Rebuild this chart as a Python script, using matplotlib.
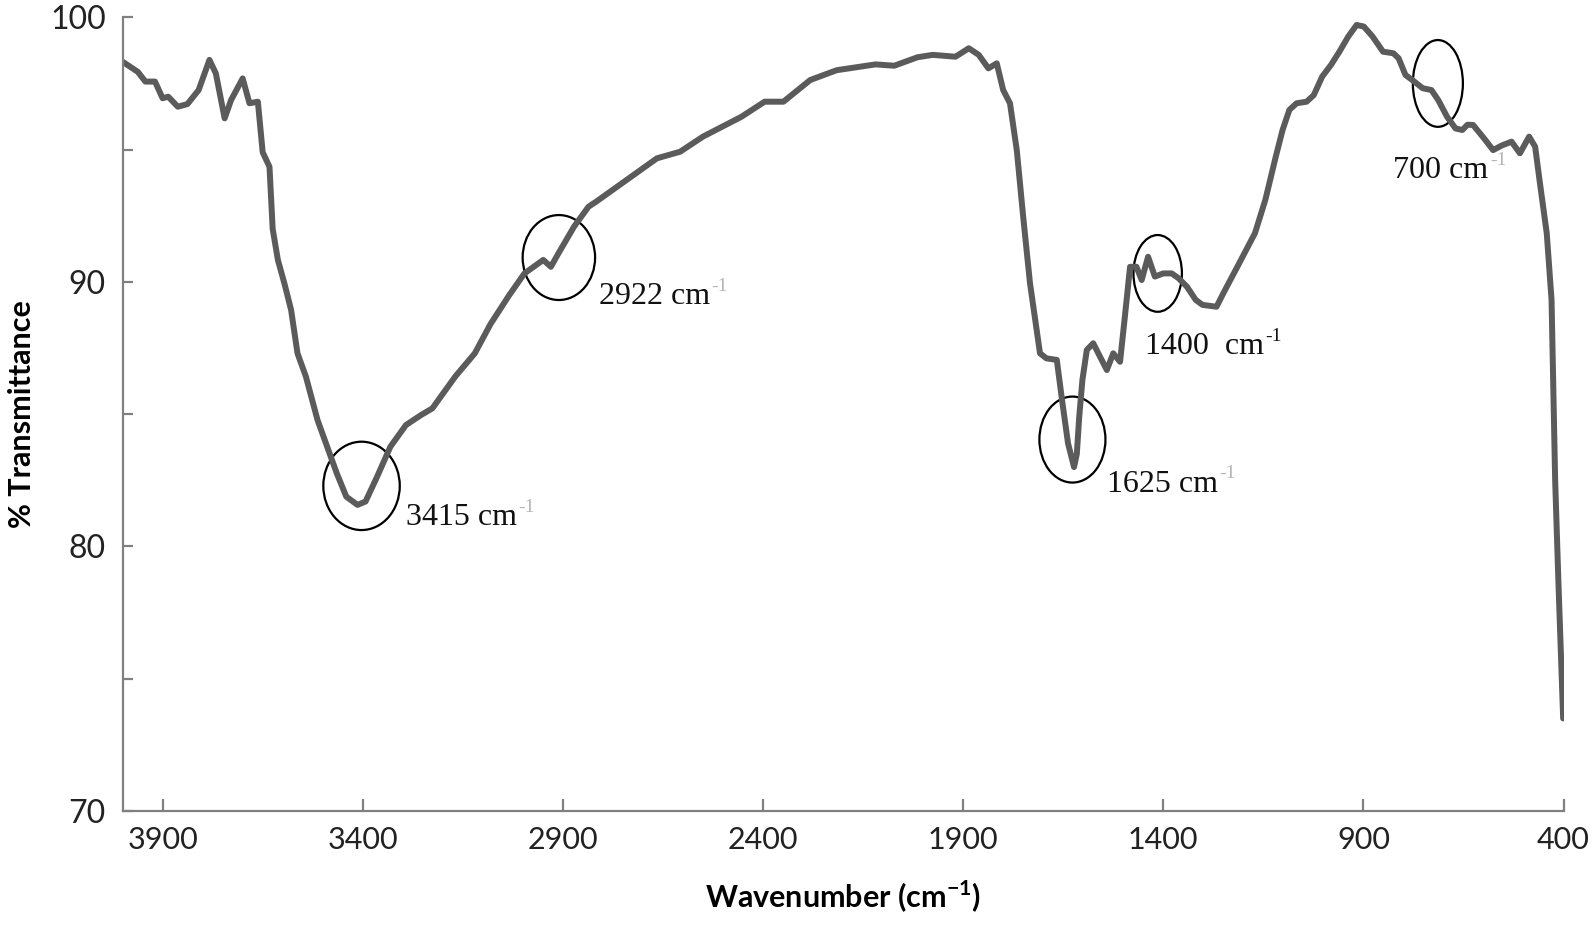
import matplotlib.pyplot as plt
from matplotlib.patches import Ellipse
from matplotlib.ticker import MultipleLocator

plt.rcParams['font.family'] = ['Lato', 'DejaVu Sans']
plt.rcParams['mathtext.fontset'] = 'custom'
plt.rcParams['mathtext.rm'] = 'Lato'
plt.rcParams['mathtext.bf'] = 'Lato:bold'

# spectre (cm-1, % T)
wavenumber = [4000, 3962, 3943, 3919, 3900, 3886, 3862, 3838, 3810, 3783, 3767, 3745,
              3729, 3700, 3683, 3662, 3650, 3633, 3625, 3612, 3595, 3579, 3563,
              3542, 3513, 3489, 3465, 3441, 3413, 3393, 3364, 3331, 3292, 3254, 3226,
              3169, 3120, 3081, 3034, 2996, 2949, 2930, 2911, 2872, 2836, 2817, 2741,
              2665, 2607, 2550, 2454, 2396, 2349, 2282, 2216, 2119, 2072, 2014, 1976,
              1919, 1886, 1861, 1837, 1816, 1800, 1783, 1766, 1750, 1733, 1708, 1692,
              1666, 1653, 1638, 1623, 1616, 1610, 1602, 1591, 1575, 1558, 1541, 1525,
              1508, 1496, 1483, 1467, 1454, 1438, 1421, 1400, 1379, 1362, 1341, 1319,
              1302, 1267, 1250, 1215, 1171, 1145, 1119, 1102, 1085, 1067, 1042, 1024,
              1003, 981, 960, 938, 917, 899, 877, 851, 825, 812, 795, 778, 752, 730,
              713, 691, 670, 653, 640, 626, 600, 576, 555, 530, 509, 486, 471, 459,
              442, 430, 421, 413, 401]
transmittance = [98.32, 97.94, 97.57, 97.57, 96.94, 97.0, 96.62, 96.72, 97.25, 98.39, 97.88, 96.18,
                 96.87, 97.69, 96.75, 96.81, 94.9, 94.35, 92.0, 90.83, 89.9, 88.94, 87.3,
                 86.42, 84.78, 83.77, 82.77, 81.88, 81.57, 81.7, 82.64, 83.77, 84.59, 84.97, 85.22,
                 86.42, 87.3, 88.4, 89.5, 90.32, 90.83, 90.57, 91.08, 92.09, 92.84, 93.03, 93.85,
                 94.67, 94.92, 95.49, 96.24, 96.81, 96.81, 97.63, 98.0, 98.22, 98.17, 98.49, 98.58,
                 98.51, 98.83, 98.58, 98.07, 98.26, 97.25, 96.75, 94.98, 92.46, 89.95, 87.3, 87.11,
                 87.05, 85.54, 83.9, 83.0, 83.5, 84.9, 86.3, 87.43, 87.68, 87.17, 86.67, 87.3,
                 86.98, 88.68, 90.57, 90.57, 90.07, 90.95, 90.2, 90.32, 90.32, 90.14, 89.82, 89.32,
                 89.13, 89.06, 89.57, 90.57, 91.84, 93.1, 94.73, 95.74, 96.5, 96.75, 96.81, 97.06,
                 97.76, 98.2, 98.7, 99.27, 99.71, 99.65, 99.27, 98.7, 98.64, 98.45, 97.82, 97.63, 97.32, 97.25,
                 96.87, 96.24, 95.8, 95.74, 95.94, 95.93, 95.45, 94.98, 95.15, 95.3, 94.86, 95.49, 95.11, 93.73,
                 91.84, 89.32, 82.51, 78.73, 73.5]

# pics entourés
peak_text = ['3415 cm', '2922 cm', '1625 cm', '1400  cm', '700 cm']
text_x = [3292, 2810, 1541, 1446, 825]
text_y = [81.08, 89.43, 82.36, 87.55, 94.2]
circle_x = [3403, 2910, 1627, 1414, 714]
circle_y = [82.29, 90.92, 84.04, 90.32, 97.5]
circle_w = [191, 181, 165, 121, 125]
circle_h = [3.34, 3.21, 3.25, 2.9, 3.28]

fig = plt.figure(figsize=(15.94, 9.25), dpi=100)
ax = fig.add_axes([0.0769, 0.1232, 0.904, 0.8581])

ax.plot(wavenumber, transmittance, color='#5b5b5b', lw=4.3,
        solid_joinstyle='round', solid_capstyle='round')

for i in range(len(peak_text)):
    ax.add_patch(Ellipse((circle_x[i], circle_y[i]), circle_w[i], circle_h[i],
                         fill=False, ec='black', lw=1.6))
    t = ax.text(text_x[i], text_y[i], peak_text[i], family='Liberation Serif',
                fontsize=23, ha='left', va='center', color='#111111')
    sup_color = '#111111' if i == 3 else '#b5b5b5'
    ax.annotate('-1', xy=(1, 0.85), xycoords=t, xytext=(1, 0), textcoords='offset points',
                family='Liberation Serif', fontsize=14, color=sup_color,
                ha='left', va='center')

ax.set_xlim(4000, 400)
ax.set_ylim(70, 100)
ax.set_xticks([3900, 3400, 2900, 2400, 1900, 1400, 900, 400])
ax.set_yticks([70, 80, 90, 100])
ax.yaxis.set_minor_locator(MultipleLocator(5))

for s in ['top', 'right']:
    ax.spines[s].set_visible(False)
for s in ['left', 'bottom']:
    ax.spines[s].set_color('#808080')
    ax.spines[s].set_linewidth(1.6)

ax.tick_params(axis='y', which='both', direction='in', length=7, width=1.6,
               color='#808080', labelsize=23, pad=12, labelcolor='#222222')
ax.tick_params(axis='x', direction='in', length=8.5, width=1.6,
               color='#808080', labelsize=22, pad=11, labelcolor='#222222')

ax.set_ylabel('% Transmittance', fontsize=22, fontweight='bold', labelpad=10)
ax.set_xlabel(r'Wavenumber (cm$^{\mathbf{-1}}$)', fontsize=22, fontweight='bold', labelpad=17)

fig.savefig('out.png', dpi=100)
